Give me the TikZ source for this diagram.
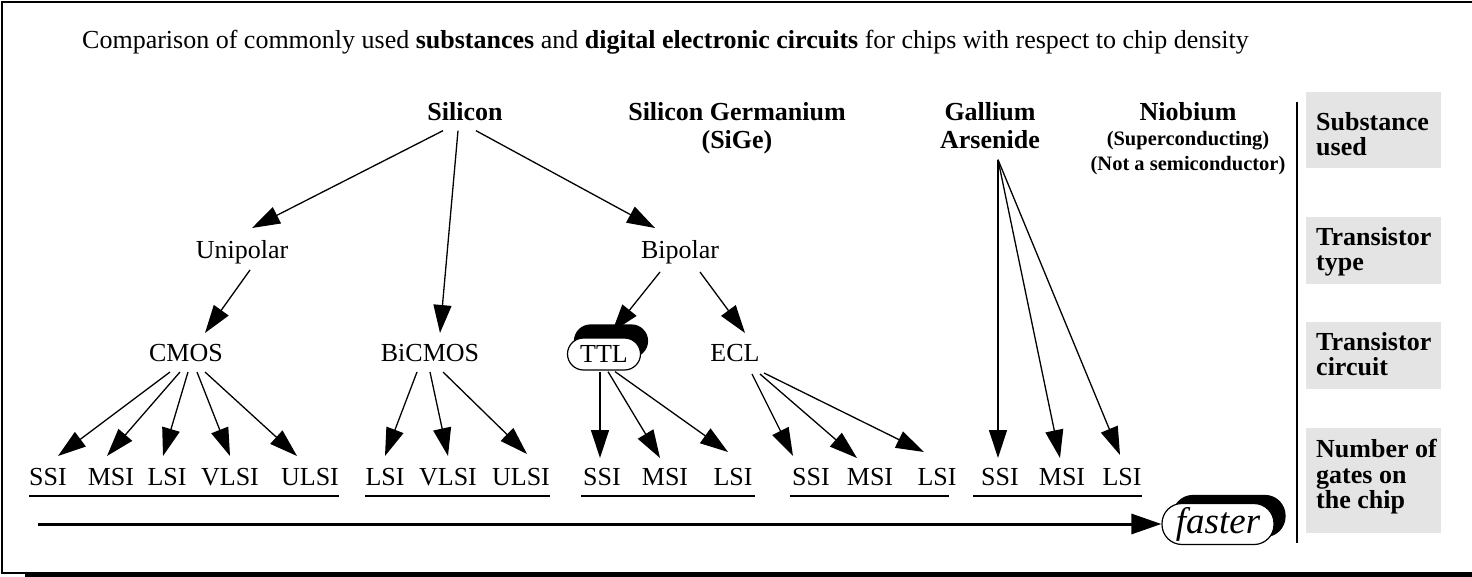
\documentclass[tikz,border=0pt]{standalone}
\usepackage{fontspec}
\setmainfont{Liberation Serif}
\usetikzlibrary{arrows.meta,calc,shadows}
\definecolor{boxgray}{RGB}{228,228,228}
\begin{document}
\begin{tikzpicture}[x=1pt,y=-1pt,
  txt/.style={font=\fontsize{26}{28}\selectfont, inner sep=0pt, anchor=base},
  hd/.style={font=\fontsize{26}{28}\selectfont\bfseries, inner sep=0pt, align=center, anchor=north},
  arr/.style={line width=1.3pt, -{Triangle[length=28pt,width=18pt]}},
  ul/.style={line width=1.3pt},
  sidebox/.style={fill=boxgray, minimum width=135pt, inner sep=0pt},
  sidetxt/.style={font=\fontsize{26}{25.5}\selectfont\bfseries, inner sep=0pt, align=left, anchor=north west},
  ttlbox/.style={draw, fill=white, line width=1.2pt, rounded corners=16pt, minimum width=73pt, minimum height=32pt, inner sep=0pt, font=\fontsize{26}{28}\selectfont,
    general shadow={fill=black, draw=black, shadow xshift=7pt, shadow yshift=13pt}},
  fastbox/.style={draw, fill=white, line width=1.2pt, rounded corners=20pt, minimum width=112pt, minimum height=41pt, inner sep=0pt, font=\fontsize{37}{40}\selectfont\itshape,
    general shadow={fill=black, draw=black, shadow xshift=11pt, shadow yshift=8pt}},
]
\useasboundingbox (0,0) rectangle (1472,577);
% frame
\draw[line width=2pt] (1472,2) -- (2,2) -- (2,573) -- (1472,573);
\fill (25,573) rectangle (1472,577);

% title
\node[anchor=base west, inner sep=0pt, font=\fontsize{26}{30}\selectfont] (title) at (82,49)
  {Comparison of commonly used \textbf{substances} and \textbf{digital electronic circuits} for chips with respect to chip density};

% level 1
\node[hd] (si) at (465,102) {Silicon};
\node[hd] (sige) at (737,102) {Silicon Germanium\\(SiGe)};
\node[hd] (gaas) at (990,102) {Gallium\\Arsenide};
\node[hd] (nb) at (1188,102) {Niobium\\[-3pt]\fontsize{20.5}{24}\selectfont(Superconducting)\\[-3pt]\fontsize{20.5}{24}\selectfont(Not a semiconductor)};

% level 2
\node[txt] (uni) at (242,259) {Unipolar};
\node[txt] (bip) at (680,259) {Bipolar};

% level 3
\node[txt] (cmos) at (186,361) {CMOS};
\node[txt] (bic) at (430,361) {BiCMOS};
\node[ttlbox] (ttl) at (604,354) {TTL};
\node[txt] (ecl) at (735,361) {ECL};

% level 4
\node[txt] (c1) at (48,485) {SSI};
\node[txt] (c2) at (111,485) {MSI};
\node[txt] (c3) at (167,485) {LSI};
\node[txt] (c4) at (230,485) {VLSI};
\node[txt] (c5) at (310,485) {ULSI};
\node[txt] (b1) at (385,485) {LSI};
\node[txt] (b2) at (448,485) {VLSI};
\node[txt] (b3) at (521,485) {ULSI};
\node[txt] (t1) at (602,485) {SSI};
\node[txt] (t2) at (665,485) {MSI};
\node[txt] (t3) at (733,485) {LSI};
\node[txt] (e1) at (811,485) {SSI};
\node[txt] (e2) at (870,485) {MSI};
\node[txt] (e3) at (937,485) {LSI};
\node[txt] (g1) at (1000,485) {SSI};
\node[txt] (g2) at (1062,485) {MSI};
\node[txt] (g3) at (1122,485) {LSI};

% underlines
\draw[ul] ($(c1.base west)+(0,11)$) -- ($(c5.base east)+(0,11)$);
\draw[ul] ($(b1.base west)+(0,11)$) -- ($(b3.base east)+(0,11)$);
\draw[ul] ($(t1.base west)+(-2,11)$) -- ($(t3.base east)+(2,11)$);
\draw[ul] ($(e1.base west)+(-2,11)$) -- ($(e3.base east)+(-8,11)$);
\draw[ul] ($(g1.base west)+(-8,11)$) -- ($(g3.base east)+(0,11)$);

% arrows level 1 -> 2/3
\draw[arr] ($(si.south)+(-22,10)$) -- ($(uni.base)+(10,-31)$);
\draw[arr] ($(si.south)+(-7,10)$) -- ($(bic.base)+(10,-28)$);
\draw[arr] ($(si.south)+(11,10)$) -- ($(bip.base)+(-25,-31)$);

% level 2 -> 3
\draw[arr] ($(uni.base)+(8,11)$) -- ($(cmos.base)+(19,-28)$);
\draw[arr] ($(bip.base)+(-20,13)$) -- ($(ttl.center)+(8,-22)$);
\draw[arr] ($(bip.base)+(20,13)$) -- ($(ecl.base)+(10,-28)$);

% level 3 -> 4
\draw[arr] ($(cmos.base)+(-16,11)$) -- ($(c1.base)+(10,-29)$);
\draw[arr] ($(cmos.base)+(-6,11)$) -- ($(c2.base)+(-4,-29)$);
\draw[arr] ($(cmos.base)+(2,11)$) -- ($(c3.base)+(-4,-29)$);
\draw[arr] ($(cmos.base)+(11,11)$) -- ($(c4.base)+(0,-29)$);
\draw[arr] ($(cmos.base)+(19,11)$) -- ($(c5.base)+(-13,-29)$);

\draw[arr] ($(bic.base)+(-13,11)$) -- ($(b1.base)+(0,-29)$);
\draw[arr] ($(bic.base)+(0,11)$) -- ($(b2.base)+(0,-29)$);
\draw[arr] ($(bic.base)+(13,11)$) -- ($(b3.base)+(6,-31)$);

\draw[arr] ($(ttl.south)+(-4,1)$) -- ($(t1.base)+(-2,-27)$);
\draw[arr] ($(ttl.south)+(4,1)$) -- ($(t2.base)+(-5,-27)$);
\draw[arr] ($(ttl.south)+(11,1)$) -- ($(t3.base)+(-5,-33)$);

\draw[arr] ($(ecl.base)+(17,13)$) -- ($(e1.base)+(-18,-29)$);
\draw[arr] ($(ecl.base)+(25,13)$) -- ($(e2.base)+(-13,-27)$);
\draw[arr] ($(ecl.base)+(29,12)$) -- ($(e3.base)+(-13,-33)$);

\draw[arr] ($(gaas.south)+(8,11)$) -- ($(g1.base)+(-2,-27)$);
\draw[arr] ($(gaas.south)+(8,11)$) -- ($(g2.base)+(-2,-27)$);
\draw[arr] ($(gaas.south)+(8,11)$) -- ($(g3.base)+(-2,-30)$);

% faster arrow
\node[fastbox] (fast) at (1218,524) {faster};
\coordinate (fs) at (38,524);
\draw[line width=3pt, -{Triangle[length=30pt,width=20pt]}] (fs) -- (fast.west);

% right side
\draw[line width=1.5pt] (1297,102) coordinate (vtop) -- (1297,543) coordinate (vbot);
\node[sidebox, minimum height=76pt] (sb1) at (1373.5,130) {};
\node[sidebox, minimum height=67pt] (sb2) at (1373.5,250.5) {};
\node[sidebox, minimum height=67pt] (sb3) at (1373.5,355.5) {};
\node[sidebox, minimum height=105pt] (sb4) at (1373.5,480.5) {};
\node[sidetxt] (st1) at (1316,112) {Substance\\used};
\node[sidetxt] (st2) at (1316,227) {Transistor\\type};
\node[sidetxt] (st3) at (1316,332) {Transistor\\circuit};
\node[sidetxt] (st4) at (1316,439) {Number of\\gates on\\the chip};
\end{tikzpicture}
\end{document}
